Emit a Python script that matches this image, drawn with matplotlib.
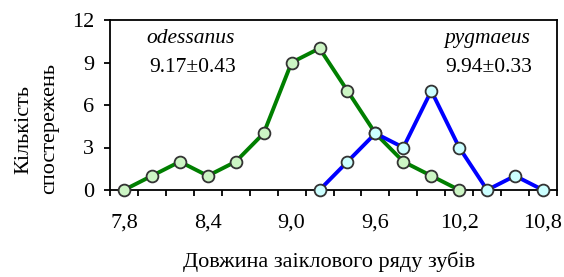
import matplotlib
matplotlib.use("Agg")
import matplotlib.pyplot as plt
import numpy as np

# Data
odessanus_x = [7.8, 8.0, 8.2, 8.4, 8.6, 8.8, 9.0, 9.2, 9.4, 9.6, 9.8, 10.0, 10.2]
odessanus_y = [0, 1, 2, 1, 2, 4, 9, 10, 7, 4, 2, 1, 0]
pygmaeus_x = [9.2, 9.4, 9.6, 9.8, 10.0, 10.2, 10.4, 10.6, 10.8]
pygmaeus_y = [0, 2, 4, 3, 7, 3, 0, 1, 0]
xtick_vals = [7.8, 8.4, 9.0, 9.6, 10.2, 10.8]
xtick_labels = ["7,8", "8,4", "9,0", "9,6", "10,2", "10,8"]
ytick_vals = [0, 3, 6, 9, 12]

plt.rcParams['font.family'] = ['Liberation Serif', 'DejaVu Serif']
FS = 15.5
TFS = 16
LFS = 16

W, H = 564, 277
fig = plt.figure(figsize=(W / 100, H / 100), dpi=100)
ax = fig.add_axes([110 / W, 1 - 190 / H, (557 - 110) / W, (190 - 20) / H])

ax.plot(odessanus_x, odessanus_y, color='#007f00', lw=2.8, marker='o', ms=8.5,
        mfc='#ccf5c4', mec='#333333', mew=1.3, zorder=3, clip_on=False)
ax.plot(pygmaeus_x, pygmaeus_y, color='#0000ff', lw=2.8, marker='o', ms=8.5,
        mfc='#ccffff', mec='#333333', mew=1.3, zorder=3, clip_on=False)

ax.set_xlim(7.7, 10.9)
ax.set_ylim(0, 12)
ax.set_yticks(ytick_vals)
ax.set_xticks(xtick_vals)
ax.set_xticklabels(xtick_labels)
ax.set_xticks(np.arange(7.7, 10.95, 0.2), minor=True)
ax.tick_params(axis='x', which='major', length=0, pad=17, labelsize=TFS)
ax.tick_params(axis='x', which='minor', length=4.5, width=1.3, direction='out')
ax.tick_params(axis='y', which='major', length=4.5, width=1.3, direction='out',
               pad=7, labelsize=TFS)
for s in ax.spines.values():
    s.set_linewidth(1.3)

ax.text(0.181, 0.894, "odessanus", transform=ax.transAxes, fontsize=FS,
        style='italic', ha='center', va='center')
ax.text(0.184, 0.718, "9.17±0.43", transform=ax.transAxes, fontsize=FS,
        ha='center', va='center')
ax.text(0.843, 0.894, "pygmaeus", transform=ax.transAxes, fontsize=FS,
        style='italic', ha='center', va='center')
ax.text(0.848, 0.718, "9.94±0.33", transform=ax.transAxes, fontsize=FS,
        ha='center', va='center')

fig.text(37 / W, 1 - 129 / H, "Кількість\nспостережень", rotation=90,
         ha='center', va='center', fontsize=LFS, linespacing=1.5)
fig.text(329 / W, 1 - 262 / H, "Довжина заіклового ряду зубів",
         ha='center', va='center', fontsize=LFS)

fig.savefig("out.png", dpi=100)
